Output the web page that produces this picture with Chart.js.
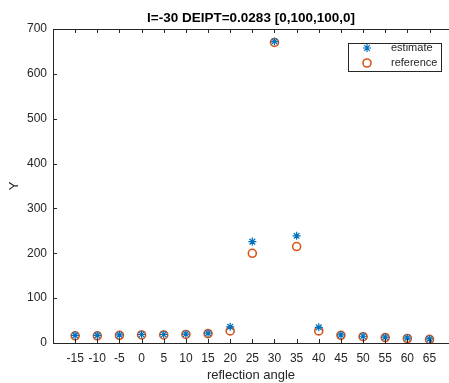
<!DOCTYPE html>
<html>
<head>
<meta charset="utf-8">
<script src="https://cdn.jsdelivr.net/npm/chart.js@4/dist/chart.umd.min.js"></script>
<style>
  html, body { margin: 0; padding: 0; background: #fff; overflow: hidden; }
  #wrap { width: 449px; height: 383px; }
</style>
</head>
<body>
<div id="wrap"><canvas id="angleChart" width="449" height="383"></canvas></div>
<script>
// ---- data ----
const angles = [-15, -10, -5, 0, 5, 10, 15, 20, 25, 30, 35, 40, 45, 50, 55, 60, 65];
const estimate = [17, 17, 18, 19, 19, 20, 22, 36, 226, 672, 239, 35, 18, 15, 13, 11, 9];
const reference = [16, 16, 17, 18, 18, 19, 21, 27, 200, 670, 215, 27, 17, 14, 12, 10, 8];
const xTicks = [-15, -10, -5, 0, 5, 10, 15, 20, 25, 30, 35, 40, 45, 50, 55, 60, 65];
const yTicks = [0, 100, 200, 300, 400, 500, 600, 700];

const axisColor = "#262626";
const fontFamily = "'Liberation Sans', Arial, sans-serif";
const blue = "#0072BD";
const orange = "#D95319";

function toPoints(ys) {
    return angles.map((a, i) => ({ x: a, y: ys[i] }));
}

// inward tick marks + top border (matlab look)
const boxTicks = {
    id: "boxTicks",
    afterDraw(chart) {
        const ctx = chart.ctx;
        const area = chart.chartArea;
        const xs = chart.scales.x;
        const ys = chart.scales.y;
        const len = 4;
        ctx.save();
        ctx.strokeStyle = axisColor;
        ctx.lineWidth = 1;
        ctx.beginPath();
        ctx.moveTo(area.left, area.top + 0.5);
        ctx.lineTo(area.right, area.top + 0.5);
        xTicks.forEach(v => {
            const px = Math.round(xs.getPixelForValue(v)) + 0.5;
            ctx.moveTo(px, area.bottom);
            ctx.lineTo(px, area.bottom - len);
            ctx.moveTo(px, area.top);
            ctx.lineTo(px, area.top + len);
        });
        yTicks.forEach(v => {
            const py = Math.round(ys.getPixelForValue(v)) + 0.5;
            ctx.moveTo(area.left, py);
            ctx.lineTo(area.left + len, py);
        });
        ctx.stroke();
        ctx.restore();
    }
};

// legend box in the top right corner
const boxLegend = {
    id: "boxLegend",
    afterDraw(chart) {
        const ctx = chart.ctx;
        const x0 = 348, y0 = 43, w = 93, h = 28;
        ctx.save();
        ctx.fillStyle = "#fff";
        ctx.fillRect(x0, y0, w, h);
        ctx.strokeStyle = axisColor;
        ctx.lineWidth = 1;
        ctx.strokeRect(x0 + 0.5, y0 + 0.5, w, h);
        const items = [
            { label: "estimate", style: "star", color: blue, y: 48, bw: 1.2 },
            { label: "reference", style: "circle", color: orange, y: 63, bw: 1.6 }
        ];
        items.forEach(it => {
            ctx.strokeStyle = it.color;
            ctx.fillStyle = "rgba(0,0,0,0)";
            ctx.lineWidth = it.bw;
            Chart.helpers.drawPoint(ctx, { pointStyle: it.style, radius: 4, rotation: 0, borderWidth: it.bw }, 367, it.y);
            ctx.fillStyle = axisColor;
            ctx.font = "11px " + fontFamily;
            ctx.textBaseline = "middle";
            ctx.textAlign = "left";
            ctx.fillText(it.label, 391, it.y);
        });
        ctx.restore();
    }
};

new Chart(document.getElementById("angleChart"), {
    type: "scatter",
    data: {
        datasets: [
            {
                label: "estimate",
                data: toPoints(estimate),
                pointStyle: "star",
                pointRadius: 4,
                borderColor: blue,
                backgroundColor: blue,
                pointBorderWidth: 1.2,
                showLine: false
            },
            {
                label: "reference",
                data: toPoints(reference),
                pointStyle: "circle",
                pointRadius: 4,
                borderColor: orange,
                backgroundColor: "rgba(0,0,0,0)",
                pointBorderWidth: 1.6,
                showLine: false
            }
        ]
    },
    options: {
        responsive: false,
        animation: false,
        devicePixelRatio: 1,
        layout: { padding: 0, autoPadding: false },
        plugins: {
            legend: { display: false },
            tooltip: { enabled: false },
            title: {
                display: true,
                fullSize: false,
                text: "I=-30 DEIPT=0.0283 [0,100,100,0]",
                color: "#000",
                font: { family: fontFamily, size: 13.5, weight: "bold" },
                padding: { top: 10, bottom: 2.8 }
            }
        },
        scales: {
            x: {
                type: "linear",
                min: -20,
                max: 69.4,
                afterBuildTicks: s => { s.ticks = xTicks.map(v => ({ value: v })); },
                afterFit: s => { s.height = 40; s.paddingLeft = 0; s.paddingRight = 0; },
                grid: { display: false, drawTicks: false },
                border: { display: true, color: axisColor, width: 1 },
                ticks: {
                    autoSkip: false,
                    maxRotation: 0,
                    padding: 8,
                    color: axisColor,
                    font: { family: fontFamily, size: 12 }
                },
                title: {
                    display: true,
                    text: "reflection angle",
                    color: axisColor,
                    font: { family: fontFamily, size: 13 },
                    padding: { top: 0, bottom: 0 }
                }
            },
            y: {
                min: 0,
                max: 700,
                afterBuildTicks: s => { s.ticks = yTicks.map(v => ({ value: v })); },
                afterFit: s => { s.width = 53; s.paddingTop = 0; s.paddingBottom = 0; },
                grid: { display: false, drawTicks: false },
                border: { display: true, color: axisColor, width: 1 },
                ticks: {
                    padding: 6,
                    color: axisColor,
                    font: { family: fontFamily, size: 12 }
                },
                title: {
                    display: true,
                    text: "Y",
                    color: axisColor,
                    font: { family: fontFamily, size: 13 },
                    padding: { top: 7, bottom: 0 }
                }
            }
        }
    },
    plugins: [boxTicks, boxLegend]
});
</script>
</body>
</html>
